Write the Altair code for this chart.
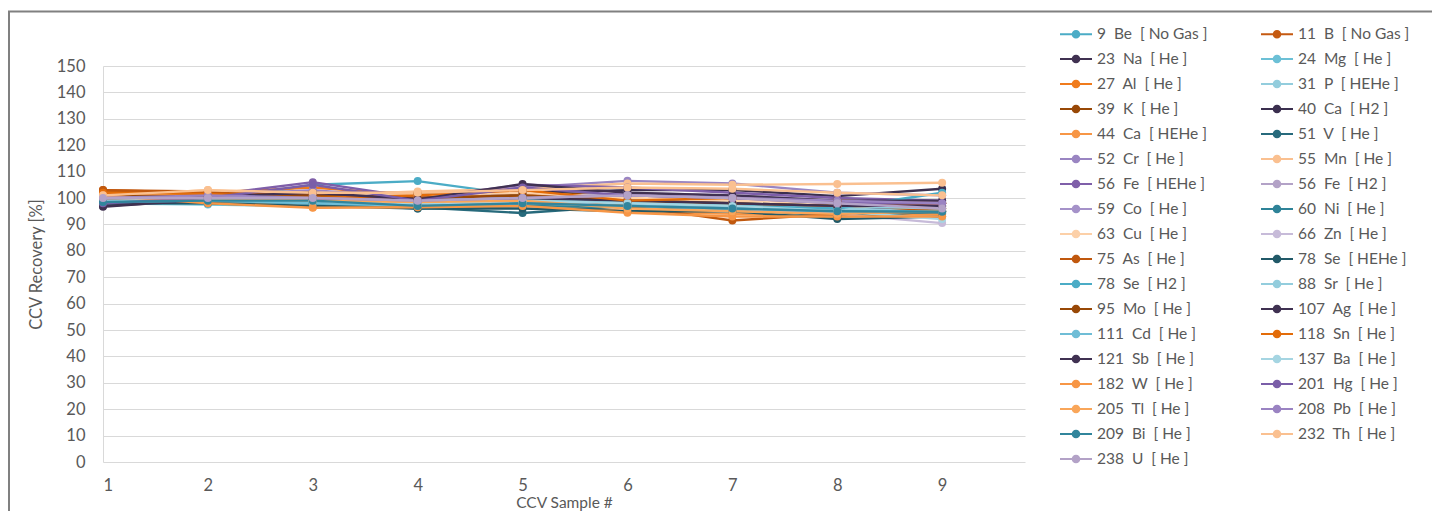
import altair as alt
import pandas as pd

NB = "\u00a0"

samples = [1, 2, 3, 4, 5, 6, 7, 8, 9]

masses = [9, 11, 23, 24, 27, 31, 39, 40, 44, 51, 52, 55, 56, 56, 59, 60, 63, 66,
          75, 78, 78, 88, 95, 107, 111, 118, 121, 137, 182, 201, 205, 208, 209, 232, 238]
elements = ["Be", "B", "Na", "Mg", "Al", "P", "K", "Ca", "Ca", "V", "Cr", "Mn", "Fe", "Fe",
            "Co", "Ni", "Cu", "Zn", "As", "Se", "Se", "Sr", "Mo", "Ag", "Cd", "Sn", "Sb",
            "Ba", "W", "Hg", "Tl", "Pb", "Bi", "Th", "U"]
modes = ["No Gas", "No Gas", "He", "He", "He", "HEHe", "He", "H2", "HEHe", "He", "He", "He",
         "HEHe", "H2", "He", "He", "He", "He", "He", "HEHe", "H2", "He", "He", "He", "He",
         "He", "He", "He", "He", "He", "He", "He", "He", "He", "He"]

series_colors = [
    "#4bacc6", "#c55a11",
    "#403151", "#6cc0d6",
    "#f07b1c", "#93cddd",
    "#984807", "#3b2f4f",
    "#f79646", "#276a7c",
    "#9a85c2", "#fac090",
    "#7f5fa9", "#b3a2c7",
    "#a592c9", "#2e8398",
    "#fcd0a8", "#c7bbd9",
    "#c0580e", "#215968",
    "#4bacc6", "#93cddd",
    "#984807", "#3f3151",
    "#6fbdd6", "#e36c09",
    "#403152", "#a5d5e2",
    "#f79646", "#7a5ea8",
    "#f9a65a", "#9a83c2",
    "#31859c", "#fac090",
    "#b3a2c7",
]

series_values = [
    [99.0, 98.5, 105.0, 106.4, 101.0, 98.0, 97.0, 96.0, 97.0],
    [103.0, 102.5, 102.0, 101.5, 102.0, 98.0, 97.0, 96.0, 95.0],
    [96.7, 99.5, 100.0, 99.0, 100.0, 98.0, 97.0, 96.0, 96.0],
    [98.0, 97.5, 97.0, 97.0, 98.0, 97.0, 96.0, 95.0, 94.0],
    [102.5, 102.0, 104.0, 101.0, 103.0, 99.0, 98.0, 97.0, 96.0],
    [99.0, 98.5, 99.0, 98.0, 99.0, 98.0, 97.0, 96.0, 95.0],
    [102.0, 102.5, 102.0, 102.0, 102.0, 101.0, 100.0, 99.0, 98.0],
    [98.0, 100.0, 101.0, 101.0, 102.0, 103.0, 103.0, 100.7, 103.5],
    [100.0, 99.0, 96.5, 97.0, 98.0, 95.0, 94.0, 93.0, 94.0],
    [99.0, 99.0, 98.0, 96.5, 94.3, 97.0, 96.0, 93.0, 95.0],
    [100.0, 101.0, 103.0, 100.0, 104.0, 106.5, 105.5, 102.0, 101.0],
    [101.0, 103.0, 101.0, 102.5, 103.5, 105.5, 105.0, 105.3, 105.8],
    [101.0, 101.0, 106.0, 100.0, 105.0, 104.0, 102.0, 100.0, 99.0],
    [99.5, 100.0, 101.0, 99.0, 100.0, 102.0, 101.0, 99.0, 98.0],
    [100.0, 100.0, 100.0, 98.5, 99.0, 101.0, 100.0, 98.0, 97.0],
    [98.0, 99.0, 98.0, 96.0, 97.0, 96.5, 96.0, 95.0, 94.5],
    [101.0, 102.0, 102.0, 101.0, 102.0, 100.0, 99.0, 98.0, 97.0],
    [99.0, 99.0, 99.0, 98.0, 99.0, 97.0, 96.0, 94.0, 90.5],
    [103.0, 102.0, 101.0, 100.0, 101.0, 97.0, 91.5, 94.0, 96.0],
    [98.0, 98.0, 97.0, 96.0, 96.0, 95.0, 95.0, 92.0, 93.0],
    [99.0, 99.0, 100.0, 98.0, 100.0, 98.0, 97.0, 96.0, 102.0],
    [100.0, 100.0, 99.0, 99.0, 100.0, 99.0, 98.0, 97.0, 96.0],
    [101.0, 100.5, 101.0, 100.0, 101.0, 99.0, 98.0, 97.0, 98.0],
    [97.0, 99.0, 99.5, 98.0, 100.0, 99.0, 98.0, 97.0, 97.0],
    [98.5, 99.0, 98.0, 97.0, 98.0, 97.0, 96.0, 95.0, 95.0],
    [102.0, 101.5, 100.0, 101.0, 103.0, 99.0, 100.0, 99.0, 98.0],
    [99.0, 100.5, 102.0, 99.5, 105.3, 102.0, 101.0, 99.0, 99.0],
    [99.0, 99.5, 99.0, 98.0, 99.0, 98.0, 97.0, 95.0, 92.0],
    [101.0, 98.0, 96.3, 96.5, 97.0, 94.4, 93.0, 93.0, 93.0],
    [98.0, 100.0, 105.0, 99.0, 104.0, 101.0, 100.0, 98.0, 98.0],
    [100.0, 100.0, 99.0, 98.5, 99.0, 96.0, 95.0, 94.0, 95.0],
    [100.0, 101.0, 100.0, 99.0, 100.0, 101.0, 100.0, 99.0, 98.0],
    [98.5, 99.0, 99.0, 97.0, 98.0, 97.0, 96.0, 95.0, 94.8],
    [101.0, 103.0, 102.0, 102.0, 103.0, 104.0, 103.5, 102.0, 101.0],
    [100.0, 100.0, 100.0, 99.0, 100.0, 101.0, 100.0, 98.0, 96.0],
]

y_ticks = list(range(0, 151, 10))

# labels keep the double spacing of the original legend
labels = [f"{m}{NB} {e}{NB} [ {g} ]" for m, e, g in zip(masses, elements, modes)]

rows = []
for lab, vals in zip(labels, series_values):
    for s, v in zip(samples, vals):
        rows.append({"series": lab, "sample": s, "recovery": v})
df = pd.DataFrame(rows)

FONT = "Lato"
GREY = "#595959"
FS = 16.5

# legend symbol: short line with a dot in the middle (filled shape)
SYMBOL = ("M-1,-0.07H-0.2V0.07H-1Z M0.2,-0.07H1V0.07H0.2Z "
          "M0.27,0A0.27,0.27 0 1,1 -0.27,0A0.27,0.27 0 1,1 0.27,0Z")

legend = alt.Legend(
    title=None,
    orient="none",
    legendX=957,
    legendY=-48,
    columns=2,
    direction="horizontal",
    padding=0,
    labelFont=FONT,
    labelFontSize=15.5,
    labelColor=GREY,
    labelLimit=0,
    labelOffset=5,
    symbolType=SYMBOL,
    symbolSize=1024,
    symbolStrokeWidth=0,
    symbolOpacity=1,
    symbolLimit=50,
    rowPadding=0,
    columnPadding=53,
)

x = alt.X(
    "sample:Q",
    scale=alt.Scale(domain=[1, 9.79], nice=False, zero=False),
    axis=alt.Axis(
        values=samples, format="d", grid=False, domain=False, ticks=False,
        labelFont=FONT, labelFontSize=FS, labelColor=GREY, labelPadding=15,
        title="CCV Sample #", titleFont=FONT, titleFontSize=15.5, titleFontWeight="normal",
        titleColor=GREY, titlePadding=1.5,
    ),
)
y = alt.Y(
    "recovery:Q",
    scale=alt.Scale(domain=[0, 150], nice=False),
    axis=alt.Axis(
        values=y_ticks, grid=True, gridColor="#d9d9d9", domain=True, domainColor="#d9d9d9",
        ticks=False, labelFont=FONT, labelFontSize=FS, labelColor=GREY, labelPadding=18,
        title="CCV Recovery [%]", titleFont=FONT, titleFontSize=FS, titleFontWeight="normal",
        titleColor=GREY, titlePadding=12,
    ),
)

lines = alt.Chart(df).mark_line(strokeWidth=2.4).encode(
    x=x, y=y,
    color=alt.Color("series:N", scale=alt.Scale(domain=labels, range=series_colors), legend=None),
    order="sample:Q",
)
points = alt.Chart(df).mark_circle(size=64, opacity=1).encode(
    x=x, y=y,
    color=alt.Color("series:N", scale=alt.Scale(domain=labels, range=series_colors), legend=legend),
)

frame = alt.Chart(pd.DataFrame({"a": [0]})).mark_rect(
    fill=None, stroke="#808080", strokeWidth=2
).encode(x=alt.value(-94), x2=alt.value(2000), y=alt.value(-54.5), y2=alt.value(1000))

chart = alt.layer(frame, lines, points).resolve_scale(color="independent").properties(
    width=922, height=396,
    autosize=alt.AutoSizeParams(type="none"),
    padding={"left": 95, "top": 58, "right": 407, "bottom": 49},
).configure(background="white").configure_view(strokeWidth=0)

chart.save("out.html", embed_options={"renderer": "svg", "actions": False})
